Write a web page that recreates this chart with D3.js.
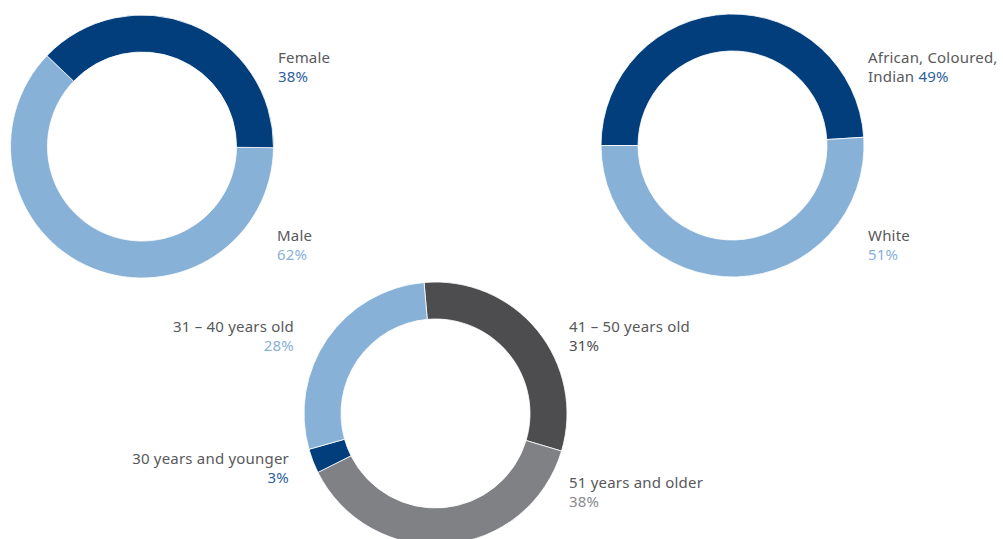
<!DOCTYPE html>
<html>
<head>
<meta charset="utf-8">
<script src="https://cdn.jsdelivr.net/npm/d3@7"></script>
<style>
  body { margin: 0; background: #fff; }
  text { font-family: "Noto Sans", sans-serif; font-size: 15px; letter-spacing: 0.2px; }
</style>
</head>
<body>
<div id="chart"></div>
<script>
// donut data, one small set per chart
const genderLabels = ["Male", "Female"];
const genderValues = [62, 38];

const raceLabels = ["African, Coloured, Indian", "White"];
const raceValues = [49, 51];

const ageLabels = ["41 – 50 years old", "51 years and older", "30 years and younger", "31 – 40 years old"];
const ageValues = [31, 38, 3, 28];

const width = 1003;
const height = 539;
const outerR = 131.5;
const innerR = 94.5;

const navy = "#023e7b";
const lightBlue = "#87b1d7";
const darkGrey = "#4d4d4f";
const midGrey = "#808184";
const textGrey = "#58595b";
const pctBlue = "#2f5f9e";

const svg = d3.select("#chart")
  .append("svg")
  .attr("width", width)
  .attr("height", height);

const arc = d3.arc().innerRadius(innerR).outerRadius(outerR);

function drawDonut(cx, cy, labels, values, colors, startDeg) {
  const pie = d3.pie()
    .sort(null)
    .startAngle(startDeg * Math.PI / 180)
    .endAngle((startDeg + 360) * Math.PI / 180);

  const data = pie(values).map((d, i) => ({ ...d, label: labels[i] }));

  svg.append("g")
    .attr("transform", `translate(${cx}, ${cy})`)
    .selectAll("path")
    .data(data)
    .join("path")
    .attr("d", arc)
    .attr("fill", (d, i) => colors[i])
    .attr("stroke", "#fff")
    .attr("stroke-width", 0.8);
}

drawDonut(142, 146.5, genderLabels, genderValues, [lightBlue, navy], 90.5);
drawDonut(732.5, 145.5, raceLabels, raceValues, [navy, lightBlue], -90);
drawDonut(435.5, 413.5, ageLabels, ageValues, [darkGrey, midGrey, navy, lightBlue], -5);

// labels: two lines each
function label(x, y, anchor, line1, pct, pctColor, inline) {
  const t = svg.append("text")
    .attr("x", x)
    .attr("y", y)
    .attr("text-anchor", anchor)
    .attr("fill", textGrey);
  t.append("tspan").text(line1);
  if (inline) {
    t.append("tspan").text(" " + pct).attr("fill", pctColor);
  } else {
    svg.append("text")
      .attr("x", x)
      .attr("y", y + 19)
      .attr("text-anchor", anchor)
      .attr("fill", pctColor)
      .text(pct);
  }
}

const pct = v => v + "%";

label(278, 63, "start", genderLabels[1], pct(genderValues[1]), pctBlue);
label(277, 241, "start", genderLabels[0], pct(genderValues[0]), lightBlue);

label(868, 63, "start", "African, Coloured,", "", textGrey);
label(868, 82, "start", "Indian", pct(raceValues[0]), pctBlue, true);
label(868, 241, "start", raceLabels[1], pct(raceValues[1]), lightBlue);

label(294, 332, "end", ageLabels[3], pct(ageValues[3]), lightBlue);
label(289, 464, "end", ageLabels[2], pct(ageValues[2]), pctBlue);
label(569, 332, "start", ageLabels[0], pct(ageValues[0]), darkGrey);
label(569, 488, "start", ageLabels[1], pct(ageValues[1]), "#8a8a8d");
</script>
</body>
</html>
